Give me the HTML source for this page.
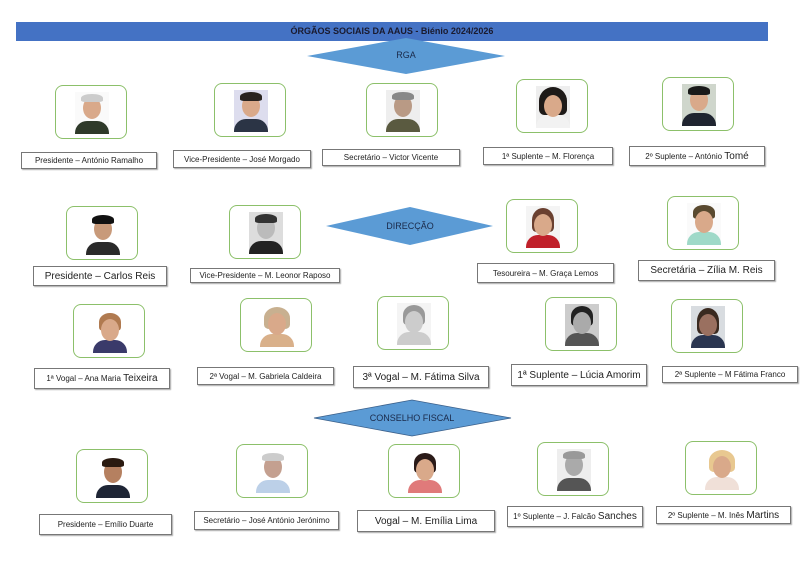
<!DOCTYPE html>
<html><head><meta charset="utf-8"><style>
body{margin:0;width:800px;height:573px;background:#fff;position:relative;overflow:hidden;font-family:"Liberation Sans",sans-serif}
.b{position:absolute;width:72px;height:54px;border:1.5px solid #8cc06a;border-radius:8px;box-sizing:border-box;background:#fff}
.p{position:absolute;left:19px;top:6px;width:34px;height:42px;background:#eee;overflow:hidden}
.h{position:absolute;left:8px;top:5px;width:18px;height:22px;border-radius:50%;background:#d9a98a}
.hr{position:absolute;left:6px;top:2px;width:22px;height:14px;border-radius:50% 50% 20% 20%;background:#333}
.s{position:absolute;left:0;top:29px;width:34px;height:16px;border-radius:12px 12px 0 0;background:#2b3445}
.l{position:absolute;border:1px solid #777;box-shadow:1px 1px 1px #aaa;background:#fff;font-size:8px;color:#222;display:flex;align-items:center;justify-content:center;white-space:nowrap;box-sizing:border-box}
.l.big{font-size:10px}
</style></head><body>
<div style="position:absolute;left:16px;top:22px;width:752px;height:19px;background:#4472c4;text-align:center;font-size:9px;font-weight:bold;line-height:19px;color:#1a1a2e">ÓRGÃOS SOCIAIS DA AAUS - Biénio 2024/2026</div>
<svg width="800" height="573" style="position:absolute;left:0;top:0">
<polygon points="307,56 406,38 505,56 406,74" fill="#5b9bd5"/>
<text x="406" y="58" font-size="9" text-anchor="middle" fill="#1a2a4a" font-family="Liberation Sans">RGA</text>
<polygon points="326,226 410,207 493,226 410,245" fill="#5b9bd5"/>
<text x="410" y="229" font-size="9" text-anchor="middle" fill="#1a2a4a" font-family="Liberation Sans">DIRECÇÃO</text>
<polygon points="314,418 412,400 511,418 412,436" fill="#5b9bd5" stroke="#3a5f8a" stroke-width="0.8"/>
<text x="412" y="421" font-size="9" text-anchor="middle" fill="#1a2a4a" font-family="Liberation Sans">CONSELHO FISCAL</text>
</svg>

<!-- Row 1 -->
<div class="b" style="left:55px;top:85px"><div class="p" style="background:#fafafa"><div class="s" style="background:#2f3a2a"></div><div class="h"></div><div class="hr" style="background:#ccc;height:8px"></div></div></div>
<div class="b" style="left:214px;top:83px"><div class="p" style="background:#dde"><div class="s"></div><div class="h"></div><div class="hr" style="background:#2a2420;height:9px"></div></div></div>
<div class="b" style="left:366px;top:83px"><div class="p" style="background:#eee"><div class="s" style="background:#5a5a40"></div><div class="h" style="background:#b99a85"></div><div class="hr" style="background:#888;height:8px"></div></div></div>
<div class="b" style="left:516px;top:79px"><div class="p" style="background:#eee"><div class="hr" style="height:28px;left:3px;width:28px;top:1px;background:#1e1a18"></div><div class="s" style="background:#f2f2f2"></div><div class="h" style="top:9px"></div></div></div>
<div class="b" style="left:662px;top:77px"><div class="p" style="background:#cfd6cc"><div class="s" style="background:#1f2430"></div><div class="h"></div><div class="hr" style="background:#1a1a1a;height:9px"></div></div></div>
<div class="l" style="left:21px;top:152px;width:136px;height:17px">Presidente – António Ramalho</div>
<div class="l" style="left:173px;top:150px;width:138px;height:18px">Vice-Presidente – José Morgado</div>
<div class="l" style="left:322px;top:149px;width:138px;height:17px">Secretário – Victor Vicente</div>
<div class="l" style="left:483px;top:147px;width:130px;height:18px">1ª Suplente – M. Florença</div>
<div class="l" style="left:629px;top:146px;width:136px;height:20px">2º Suplente – António&nbsp;<span style="font-size:10px">Tomé</span></div>

<!-- Row 2 -->
<div class="b" style="left:66px;top:206px"><div class="p" style="background:#fff"><div class="s" style="background:#2a2a2a"></div><div class="h" style="background:#c89a7a"></div><div class="hr" style="background:#111;height:9px"></div></div></div>
<div class="b" style="left:229px;top:205px"><div class="p" style="background:#ddd"><div class="s" style="background:#222"></div><div class="h" style="background:#bbb"></div><div class="hr" style="background:#333;height:9px"></div></div></div>
<div class="b" style="left:506px;top:199px"><div class="p" style="background:#f4f4f4"><div class="hr" style="height:24px;background:#6a4030"></div><div class="s" style="background:#c0202a"></div><div class="h" style="top:8px"></div></div></div>
<div class="b" style="left:667px;top:196px"><div class="p" style="background:#fafafa"><div class="hr" style="background:#5a4a30"></div><div class="s" style="background:#9fd9c8"></div><div class="h" style="top:8px"></div></div></div>
<div class="l big" style="left:33px;top:266px;width:134px;height:20px">Presidente – Carlos Reis</div>
<div class="l" style="left:190px;top:268px;width:150px;height:15px">Vice-Presidente – M. Leonor Raposo</div>
<div class="l" style="left:477px;top:263px;width:137px;height:20px">Tesoureira – M. Graça Lemos</div>
<div class="l big" style="left:638px;top:260px;width:137px;height:21px">Secretária – Zília M. Reis</div>

<!-- Row 3 -->
<div class="b" style="left:73px;top:304px"><div class="p" style="background:#fff"><div class="hr" style="background:#b07a50;height:18px"></div><div class="s" style="background:#3a3a6a"></div><div class="h" style="top:8px"></div></div></div>
<div class="b" style="left:240px;top:298px"><div class="p" style="background:#fff"><div class="hr" style="background:#c8b090;height:22px;left:4px;width:26px"></div><div class="s" style="background:#d9b08a"></div><div class="h" style="top:8px"></div></div></div>
<div class="b" style="left:377px;top:296px"><div class="p" style="background:#f4f4f4"><div class="hr" style="background:#999;height:20px"></div><div class="s" style="background:#ccc"></div><div class="h" style="background:#ccc;top:8px"></div></div></div>
<div class="b" style="left:545px;top:297px"><div class="p" style="background:#ccc"><div class="hr" style="background:#222;height:20px"></div><div class="s" style="background:#555"></div><div class="h" style="background:#aaa;top:8px"></div></div></div>
<div class="b" style="left:671px;top:299px"><div class="p" style="background:#d8dce0"><div class="hr" style="background:#3a2a20;height:26px"></div><div class="s" style="background:#2a3550"></div><div class="h" style="background:#9a7060;top:8px"></div></div></div>
<div class="l" style="left:34px;top:368px;width:136px;height:21px">1ª Vogal – Ana Maria&nbsp;<span style="font-size:10px">Teixeira</span></div>
<div class="l" style="left:197px;top:367px;width:137px;height:18px">2ª Vogal – M. Gabriela Caldeira</div>
<div class="l big" style="left:353px;top:366px;width:136px;height:22px">3ª Vogal – M. Fátima Silva</div>
<div class="l big" style="left:511px;top:364px;width:136px;height:22px">1ª Suplente – Lúcia Amorim</div>
<div class="l" style="left:662px;top:366px;width:136px;height:17px">2ª Suplente – M Fátima Franco</div>

<!-- Row 4 -->
<div class="b" style="left:76px;top:449px"><div class="p" style="background:#fff"><div class="s" style="background:#1e2535"></div><div class="h" style="background:#b58060"></div><div class="hr" style="background:#2a1a10;height:9px"></div></div></div>
<div class="b" style="left:236px;top:444px"><div class="p" style="background:#fff"><div class="s" style="background:#bcd0e8"></div><div class="h" style="background:#c4a090"></div><div class="hr" style="background:#ccc;height:8px"></div></div></div>
<div class="b" style="left:388px;top:444px"><div class="p" style="background:#fff"><div class="hr" style="background:#2a1a18;height:20px"></div><div class="s" style="background:#e07a7a"></div><div class="h" style="top:8px"></div></div></div>
<div class="b" style="left:537px;top:442px"><div class="p" style="background:#eee"><div class="s" style="background:#555"></div><div class="h" style="background:#aaa"></div><div class="hr" style="background:#999;height:8px"></div></div></div>
<div class="b" style="left:685px;top:441px"><div class="p" style="background:#fff"><div class="hr" style="background:#e8c890;height:22px;left:4px;width:26px"></div><div class="s" style="background:#f0e0d8"></div><div class="h" style="top:8px"></div></div></div>
<div class="l" style="left:39px;top:514px;width:133px;height:21px">Presidente – Emílio Duarte</div>
<div class="l" style="left:194px;top:511px;width:145px;height:19px">Secretário – José António Jerónimo</div>
<div class="l big" style="left:357px;top:510px;width:138px;height:22px">Vogal – M. Emília Lima</div>
<div class="l" style="left:507px;top:506px;width:136px;height:21px">1º Suplente – J. Falcão&nbsp;<span style="font-size:10px">Sanches</span></div>
<div class="l" style="left:656px;top:506px;width:135px;height:18px">2º Suplente – M. Inês&nbsp;<span style="font-size:10px">Martins</span></div>
</body></html>
